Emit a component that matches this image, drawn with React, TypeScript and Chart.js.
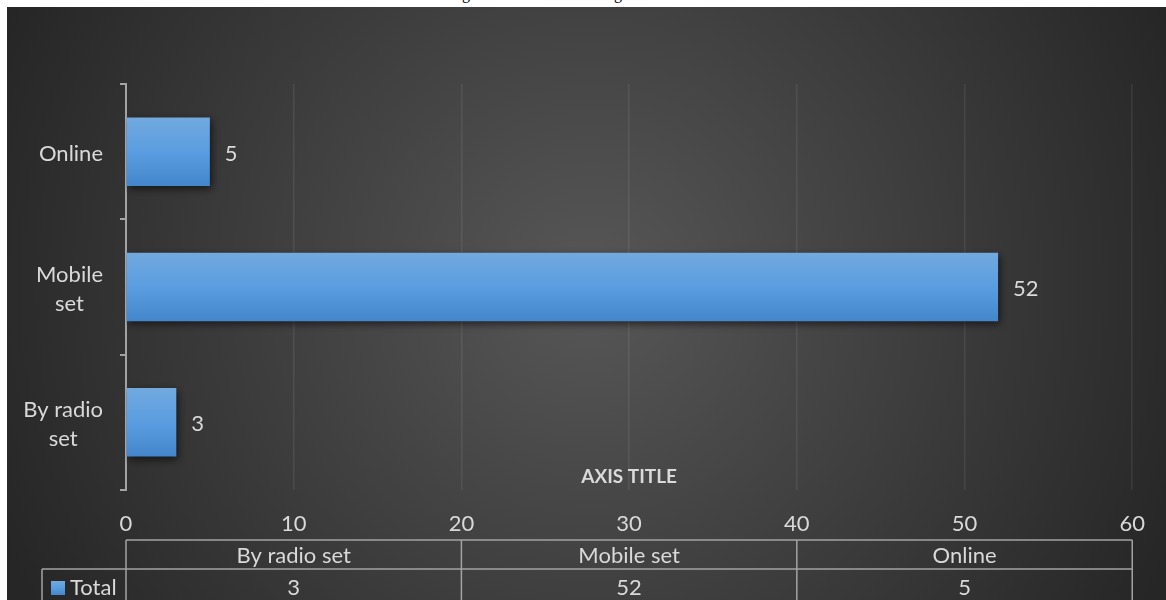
import React, { useEffect, useRef } from "react";
import { Chart, registerables } from "chart.js";

Chart.register(...registerables);

// ---- data ----
const categories = ["By radio set", "Mobile set", "Online"];
const categoryLabelLines = [["By radio", "set"], ["Mobile", "set"], ["Online"]];
const totals = [3, 52, 5];
const seriesName = "Total";
const axisTitle = "AXIS TITLE";
const xMin = 0;
const xMax = 60;
const xStep = 10;

// ---- style ----
const FONT = "Lato, 'Open Sans', sans-serif";
const TEXT = "#d9d9d9";
const LINE = "#a3a3a3";
const W = 1159;
const H = 593;

const barGradient = (ctx: CanvasRenderingContext2D, top: number, bottom: number) => {
  const g = ctx.createLinearGradient(0, top, 0, bottom);
  g.addColorStop(0, "#72a9df");
  g.addColorStop(0.5, "#5a9de0");
  g.addColorStop(1, "#4486cb");
  return g;
};

const backgroundPlugin = {
  id: "bgGradient",
  beforeDraw(chart: any) {
    const { ctx, width, height } = chart;
    const g = ctx.createRadialGradient(583, 280, 0, 583, 280, 640);
    g.addColorStop(0, "#575757");
    g.addColorStop(1, "#262626");
    ctx.save();
    ctx.fillStyle = g;
    ctx.fillRect(0, 0, width, height);
    ctx.restore();
  },
};

const shadowPlugin = {
  id: "barShadow",
  beforeDatasetsDraw(chart: any) {
    const ctx = chart.ctx;
    ctx.save();
    ctx.shadowColor = "rgba(0,0,0,0.6)";
    ctx.shadowBlur = 8;
    ctx.shadowOffsetX = 2;
    ctx.shadowOffsetY = 3;
  },
  afterDatasetsDraw(chart: any) {
    chart.ctx.restore();
  },
};

const overlayPlugin = {
  id: "overlay",
  afterDraw(chart: any) {
    const { ctx, chartArea: ca } = chart;
    const y = chart.scales.y;
    const meta = chart.getDatasetMeta(0);
    ctx.save();
    ctx.fillStyle = TEXT;
    ctx.font = `22px ${FONT}`;
    ctx.textBaseline = "middle";

    // category labels (right-aligned blocks, centered lines)
    const labelRight = 96;
    const lineGap = 29;
    categoryLabelLines.forEach((lines, i) => {
      const cy = y.getPixelForValue(i) + 2;
      const widest = Math.max(...lines.map((l) => ctx.measureText(l).width));
      const cx = labelRight - widest / 2;
      ctx.textAlign = "center";
      lines.forEach((l, k) => {
        const ly = cy + (k - (lines.length - 1) / 2) * lineGap;
        ctx.fillText(l, cx, ly);
      });
    });

    // data labels
    ctx.textAlign = "left";
    meta.data.forEach((bar: any, i: number) => {
      ctx.fillText(String(totals[i]), bar.x + 15, bar.y + 2);
    });

    // axis title
    ctx.font = `bold 19px ${FONT}`;
    ctx.textAlign = "center";
    ctx.fillText(axisTitle, (ca.left + ca.right) / 2, ca.bottom - 13);

    // data table
    const n = categories.length;
    const colW = (ca.right - ca.left) / n;
    const t0 = ca.bottom + 50;
    const t1 = t0 + 29;
    const tEnd = H + 5;
    const legendLeft = 35;
    ctx.strokeStyle = LINE;
    ctx.lineWidth = 1.5;
    ctx.beginPath();
    ctx.moveTo(ca.left, t0);
    ctx.lineTo(ca.right, t0);
    ctx.moveTo(legendLeft, t1);
    ctx.lineTo(ca.right, t1);
    for (let i = 0; i <= n; i++) {
      const x = ca.left + colW * i;
      ctx.moveTo(x, t0);
      ctx.lineTo(x, tEnd);
    }
    ctx.moveTo(legendLeft, t1);
    ctx.lineTo(legendLeft, tEnd);
    ctx.stroke();

    ctx.font = `22px ${FONT}`;
    ctx.fillStyle = TEXT;
    ctx.textAlign = "center";
    categories.forEach((c, i) => {
      const cx = ca.left + colW * (i + 0.5);
      ctx.fillText(c, cx, t0 + 16);
      ctx.fillText(String(totals[i]), cx, t1 + 19);
    });

    // legend key
    const ky = t1 + 12;
    ctx.fillStyle = barGradient(ctx, ky, ky + 14);
    ctx.fillRect(legendLeft + 9, ky, 14, 14);
    ctx.fillStyle = TEXT;
    ctx.textAlign = "left";
    ctx.fillText(seriesName, legendLeft + 28, t1 + 19);
    ctx.restore();
  },
};

export default function App() {
  const canvasRef = useRef<HTMLCanvasElement | null>(null);

  useEffect(() => {
    const canvas = canvasRef.current;
    if (!canvas) return;
    const chart = new Chart(canvas, {
      type: "bar",
      data: {
        labels: categories,
        datasets: [
          {
            label: seriesName,
            data: totals,
            barPercentage: 1,
            categoryPercentage: 0.506,
            borderWidth: 0,
            backgroundColor: (c: any) => {
              const ch = c.chart;
              const ys = ch.scales && ch.scales.y;
              if (!ys || c.dataIndex == null || !ch.chartArea) return "#5b9bd5";
              const center = ys.getPixelForValue(c.dataIndex);
              const half = ((ys.bottom - ys.top) / categories.length) * 0.506 / 2;
              return barGradient(ch.ctx, center - half, center + half);
            },
          },
        ],
      },
      options: {
        responsive: false,
        animation: false,
        indexAxis: "y",
        layout: { padding: { top: 77, right: 33, left: 0, bottom: 0 } },
        plugins: {
          legend: { display: false },
          tooltip: { enabled: false },
          title: { display: false },
        },
        scales: {
          x: {
            type: "linear",
            position: "bottom",
            min: xMin,
            max: xMax,
            ticks: {
              stepSize: xStep,
              color: TEXT,
              font: { family: FONT, size: 22 },
              padding: 21,
            },
            grid: {
              color: "rgba(255,255,255,0.08)",
              lineWidth: 1.5,
              drawTicks: false,
            },
            border: { display: false },
            afterFit: (s: any) => {
              s.height = 110;
            },
          },
          y: {
            type: "category",
            reverse: true,
            z: 1,
            ticks: { display: false },
            grid: {
              offset: true,
              drawOnChartArea: false,
              drawTicks: true,
              tickLength: 6,
              color: LINE,
              lineWidth: 2,
            },
            border: { display: true, color: LINE, width: 2 },
            afterFit: (s: any) => {
              s.width = 119;
            },
          },
        },
      } as any,
      plugins: [backgroundPlugin, shadowPlugin, overlayPlugin],
    });
    return () => chart.destroy();
  }, []);

  return (
    <div
      style={{
        position: "absolute",
        left: 0,
        top: 0,
        width: 1166,
        height: 600,
        background: "#ffffff",
        overflow: "hidden",
      }}
    >
      <div
        style={{
          position: "absolute",
          left: 0,
          top: 0,
          width: 1166,
          height: 7,
          overflow: "hidden",
          fontFamily: "'Liberation Serif', serif",
          fontSize: 16,
          lineHeight: "16px",
          color: "#000",
        }}
      >
        <span style={{ position: "absolute", left: 462, top: -14 }}>g</span>
        <span style={{ position: "absolute", left: 614, top: -14 }}>g</span>
      </div>
      <div style={{ position: "absolute", left: 7, top: 7, width: W, height: H }}>
        <canvas ref={canvasRef} width={W} height={H} style={{ width: W, height: H, display: "block" }} />
      </div>
    </div>
  );
}
